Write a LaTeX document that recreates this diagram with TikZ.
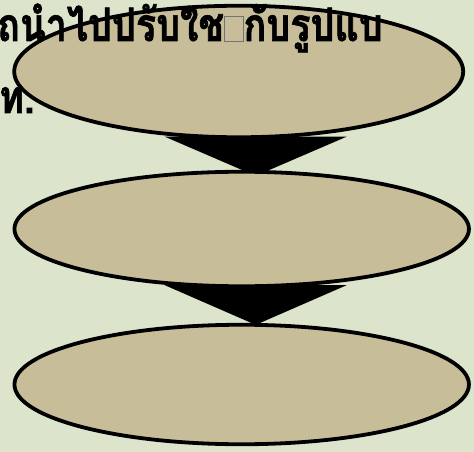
\documentclass[tikz,border=0pt]{standalone}
\usepackage{fontspec}
\newfontfamily\thaifont[Script=Thai,FakeStretch=0.82,BoldFeatures={FakeBold=1.4}]{Loma}
\usetikzlibrary{shapes.geometric,calc,backgrounds}
\definecolor{paleback}{RGB}{221,228,204}
\definecolor{ovaltan}{RGB}{199,190,153}
\newcommand\tofubox{{\color{black!55}\fboxsep=0pt\fboxrule=0.7pt\fbox{\rule{0pt}{24pt}\hspace{18pt}}}}

\begin{document}
\begin{tikzpicture}[
  x=1pt,y=-1pt,
  oval/.style={draw, ellipse, fill=ovaltan, line width=3.8pt, inner sep=0pt},
  fatarrow/.style={fill=black},
  thai/.style={anchor=base west, inner sep=0pt, font=\thaifont\bfseries\fontsize{46}{52}\selectfont}
]
\useasboundingbox (0,0) rectangle (474,452);
\clip (0,0) rectangle (474,452);
\node[oval, minimum width=449, minimum height=131.5] (top) at (238.7,71.5) {};
\node[oval, minimum width=454.5, minimum height=114.5] (middle) at (241.7,229) {};
\node[oval, minimum width=454.5, minimum height=119.5] (bottom) at (241.7,384.5) {};
\begin{scope}[on background layer]
\fill[paleback] (0,0) rectangle (474,452);
\fill[fatarrow] ($(top.south)+(-74,-2.5)$) -- ($(top.south)+(108,-2.5)$) -- ($(middle.north)+(14,6)$) -- cycle;
\fill[fatarrow] ($(middle.south)+(-77,-3)$) -- ($(middle.south)+(105,-3)$) -- ($(bottom.north)+(14,2)$) -- cycle;
\end{scope}
\node[thai] (line1) at (-3,41) {ถนำไปปรับใช\tofubox กับรูปแบ};
\node[thai] (line2) at (-1,113) {ท.};
\end{tikzpicture}
\end{document}
